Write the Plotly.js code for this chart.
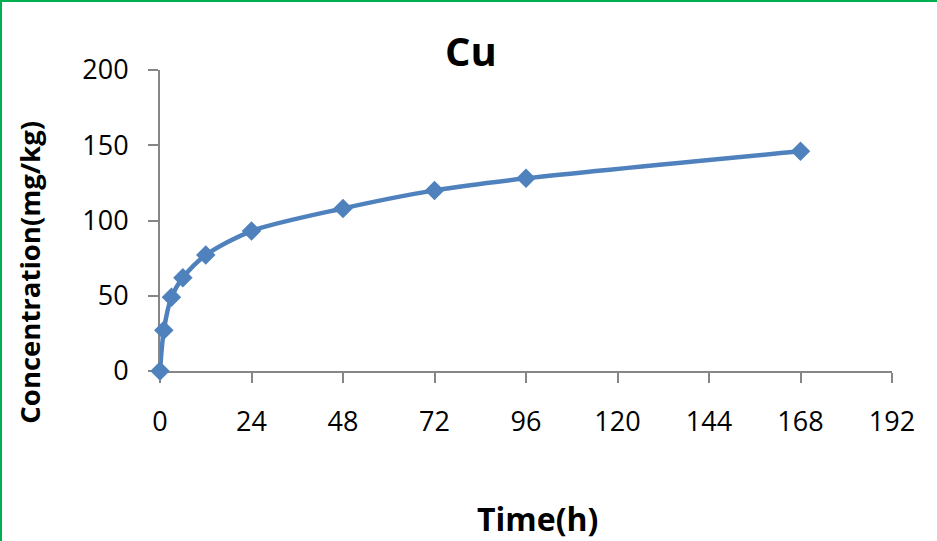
<!DOCTYPE html>
<html>
<head>
<meta charset="utf-8">
<script src="https://cdn.plot.ly/plotly-3.0.1.min.js"></script>
<style>
  html, body { margin: 0; padding: 0; background: #fff; }
  #wrap { position: relative; width: 937px; height: 541px; overflow: hidden; }
  #chart { position: absolute; left: 0; top: 0; width: 937px; height: 541px; }
  #frame { position: absolute; left: 0; top: 0; width: 937px; height: 541px;
           border-left: 2px solid #00B050; border-top: 2px solid #00B050;
           box-sizing: border-box; pointer-events: none; }
</style>
</head>
<body>
<div id="wrap">
  <div id="chart"></div>
  <div id="frame"></div>
</div>
<script>
// Cu release over time
const timeHours = [0, 1, 3, 6, 12, 24, 48, 72, 96, 168];
const concentration = [0, 27, 49, 62, 77, 93, 108, 120, 128, 146];
const xTicks = [0, 24, 48, 72, 96, 120, 144, 168, 192];
const yTicks = [0, 50, 100, 150, 200];

const FONT = '"Open Sans", "Noto Sans", sans-serif';
const BLUE = '#4F81BD';
const AXIS = '#868686';

const trace = {
  x: timeHours,
  y: concentration,
  type: 'scatter',
  mode: 'lines+markers',
  line: { color: BLUE, width: 4.5, shape: 'spline', smoothing: 0.8 },
  marker: { symbol: 'diamond', size: 15, color: BLUE },
  hoverinfo: 'x+y',
  cliponaxis: false
};

const layout = {
  width: 937,
  height: 541,
  paper_bgcolor: '#ffffff',
  plot_bgcolor: '#ffffff',
  margin: { l: 160, r: 45, t: 70, b: 170 },
  showlegend: false,
  font: { family: FONT, color: '#000000' },
  title: {
    text: '<b>Cu</b>',
    font: { family: FONT, size: 40, color: '#000000' },
    xref: 'container', yref: 'container',
    x: 471 / 937, xanchor: 'center',
    y: 1 - 52 / 541, yanchor: 'middle'
  },
  xaxis: {
    range: [0, 192],
    tickvals: xTicks,
    ticktext: xTicks.map(String),
    showgrid: false,
    zeroline: false,
    showline: true,
    linecolor: AXIS,
    linewidth: 2,
    layer: 'below traces',
    ticks: 'outside',
    ticklen: 10,
    tickwidth: 2,
    tickcolor: AXIS,
    ticklabelstandoff: 16,
    tickfont: { family: FONT, size: 27, color: '#000000' },
    fixedrange: true
  },
  yaxis: {
    range: [0, 200],
    tickvals: yTicks,
    ticktext: yTicks.map(String),
    showgrid: false,
    zeroline: false,
    showline: true,
    linecolor: AXIS,
    linewidth: 2,
    layer: 'below traces',
    ticks: 'outside',
    ticklen: 10,
    tickwidth: 2,
    tickcolor: AXIS,
    ticklabelstandoff: 14,
    tickfont: { family: FONT, size: 27, color: '#000000' },
    fixedrange: true
  },
  annotations: [
    {
      text: '<b>Time(h)</b>',
      xref: 'paper', yref: 'paper',
      x: (537 - 160) / 732, y: -(517 - 370) / 300,
      xanchor: 'center', yanchor: 'middle',
      showarrow: false,
      font: { family: FONT, size: 32, color: '#000000' }
    },
    {
      text: '<b>Concentration(mg/kg)</b>',
      xref: 'paper', yref: 'paper',
      x: -(160 - 30) / 732, y: (370 - 272) / 300,
      xanchor: 'center', yanchor: 'middle',
      textangle: -90,
      showarrow: false,
      font: { family: FONT, size: 27.5, color: '#000000' }
    }
  ]
};

Plotly.newPlot('chart', [trace], layout, { displayModeBar: false });
</script>
</body>
</html>
